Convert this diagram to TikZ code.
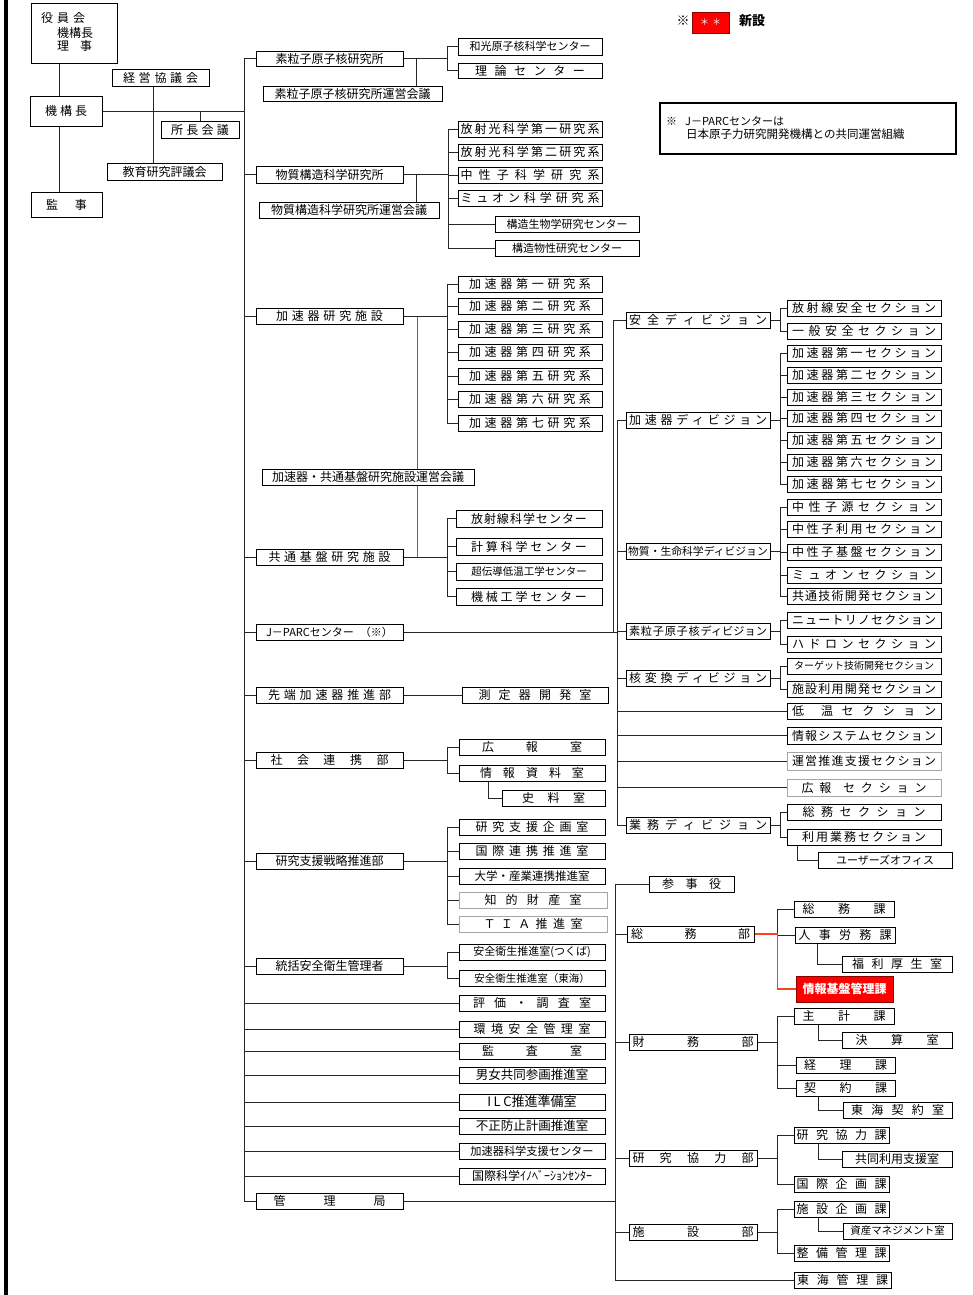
\documentclass[tikz,border=0pt]{standalone}
\usepackage{fontspec}
\setmainfont{Noto Sans CJK JP}
\pgfdeclarelayer{bg}\pgfsetlayers{bg,main}
\newcommand\spr[2]{\makebox[#1pt][s]{\spaceskip=0pt plus 1fil\relax #2}}
\newcommand\fs[1]{\fontsize{#1}{#1}\selectfont}
\tikzset{
  box/.style={draw=black,line width=0.9pt,fill=white,inner sep=0pt,font=\fs{12}},
  gbox/.style={draw=black!35},
  ln/.style={draw=black!85,line width=0.8pt},
  redln/.style={draw={rgb,255:red,255;green,64;blue,32},line width=1.2pt},
  txt/.style={inner sep=0pt,font=\fs{12}}
}
\newcommand\bx[7][]{\node[box,minimum width={(#5-#3)*1pt},minimum height={(#6-#4)*1pt},#1] (#2) at ({(#3+#5)/2},{(#4+#6)/2}) {#7};}
\newcommand\brkt[3]{%
  \coordinate (#1-b) at ([xshift=#2pt]#1.east);
  \draw[ln] (#1.east) -- (#1-b);
  \foreach \ch in {#3} {\draw[ln] (#1-b) |- (\ch.west);}
}
\begin{document}
\begin{tikzpicture}[x=1pt,y=-1pt]
\useasboundingbox (0,0) rectangle (973,1295);
\begin{pgfonlayer}{bg}\fill[white] (0,0) rectangle (973,1295);\end{pgfonlayer}
\fill[black] (3.5,0) rectangle (8,1295);

% ---------- top left ----------
\bx{yakuin}{31}{3}{117}{63}{}
\node[txt,anchor=west] (yk1) at (41,18) {\spr{44}{役 員 会}};
\node[txt,anchor=west] (yk2) at (57,33) {機構長};
\node[txt,anchor=west] (yk3) at (57,46) {\spr{35}{理 事}};
\bx{keiei}{112}{69}{209}{86}{\spr{75}{経 営 協 議 会}}
\bx{kikou}{30}{96}{102}{126}{\spr{42}{機 構 長}}
\bx{shocho}{161}{121}{239}{138}{\spr{58}{所 長 会 議}}
\bx{kyoiku}{107}{163}{222}{180}{教育研究評議会}
\bx{kanji}{31}{192}{102}{217}{\spr{41}{監 事}}

% ---------- main column ----------
\bx{soryu}{256}{51}{403}{66}{素粒子原子核研究所}
\bx{soryuK}{263}{86}{442}{101}{素粒子原子核研究所運営会議}
\bx{wako}{458}{38}{602}{55}{\fs{11}和光原子核科学センター}
\bx{riron}{458}{63}{602}{78}{\spr{110}{理 論 セ ン タ ー}}
\bx{bussei}{256}{166}{403}{183}{物質構造科学研究所}
\bx{busseiK}{259}{202}{439}{218}{物質構造科学研究所運営会議}
\bx{hk1}{458}{121}{602}{137}{\spr{139}{放 射 光 科 学 第 一 研 究 系}}
\bx{hk2}{458}{144}{602}{160}{\spr{139}{放 射 光 科 学 第 二 研 究 系}}
\bx{chu}{458}{167}{602}{183}{\spr{139}{中 性 子 科 学 研 究 系}}
\bx{muon}{458}{190}{602}{206}{\spr{139}{ミ ュ オ ン 科 学 研 究 系}}
\bx{kozoB}{495}{216}{639}{232}{\fs{11}構造生物学研究センター}
\bx{kozoP}{495}{240}{639}{256}{\fs{11}構造物性研究センター}

\bx{kasoku}{256}{308}{403}{324}{\spr{107}{加 速 器 研 究 施 設}}
\bx{kk1}{458}{276}{602}{292}{\spr{122}{加 速 器 第 一 研 究 系}}
\bx{kk2}{458}{298}{602}{314}{\spr{122}{加 速 器 第 二 研 究 系}}
\bx{kk3}{458}{321}{602}{337}{\spr{122}{加 速 器 第 三 研 究 系}}
\bx{kk4}{458}{344}{602}{360}{\spr{122}{加 速 器 第 四 研 究 系}}
\bx{kk5}{458}{368}{602}{384}{\spr{122}{加 速 器 第 五 研 究 系}}
\bx{kk6}{458}{391}{602}{407}{\spr{122}{加 速 器 第 六 研 究 系}}
\bx{kk7}{458}{415}{602}{431}{\spr{122}{加 速 器 第 七 研 究 系}}
\bx{kasokuK}{262}{469}{474}{485}{加速器・共通基盤研究施設運営会議}
\bx{kyotsu}{256}{549}{403}{565}{\spr{122}{共 通 基 盤 研 究 施 設}}
\bx{hsc}{456}{510}{602}{527}{\spr{116}{放 射 線 科 学 セ ン タ ー}}
\bx{keisan}{456}{538}{602}{555}{\spr{116}{計 算 科 学 セ ン タ ー}}
\bx{chodendo}{456}{563}{602}{580}{\fs{10.5}超伝導低温工学センター}
\bx{kikai}{456}{588}{602}{605}{\spr{116}{機 械 工 学 セ ン タ ー}}
\bx{jparc}{256}{624}{403}{640}{\fs{11}J－PARCセンター\hspace{6pt}（※）}
\bx{sentan}{256}{687}{403}{703}{\spr{123}{先 端 加 速 器 推 進 部}}
\bx{sokutei}{462}{687}{608}{703}{\spr{113}{測 定 器 開 発 室}}
\bx{shakai}{256}{752}{403}{768}{\spr{118}{社 会 連 携 部}}
\bx{kouhou}{459}{739}{605}{755}{\spr{100}{広 報 室}}
\bx{jouhou}{459}{765}{605}{781}{\spr{104}{情 報 資 料 室}}
\bx{shiryo}{502}{790}{605}{806}{\spr{63}{史 料 室}}
\bx{kenkyu}{256}{853}{403}{869}{研究支援戦略推進部}
\bx{ks1}{459}{819}{605}{835}{\spr{113}{研 究 支 援 企 画 室}}
\bx{ks2}{459}{843}{605}{859}{\spr{113}{国 際 連 携 推 進 室}}
\bx{ks3}{459}{868}{605}{884}{\fs{11.5}大学・産業連携推進室}
\bx[gbox]{ks4}{459}{892}{607}{908}{\spr{97}{知 的 財 産 室}}
\bx[gbox]{ks5}{459}{916}{607}{932}{\spr{99}{Ｔ Ｉ Ａ 推 進 室}}
\bx{toukatsu}{256}{958}{403}{974}{統括安全衛生管理者}
\bx{anz1}{459}{944}{605}{960}{\fs{11}安全衛生推進室(つくば)}
\bx{anz2}{459}{970}{605}{986}{\fs{10.5}安全衛生推進室（東海）}
\bx{hyouka}{459}{995}{605}{1011}{\spr{118}{評 価 ・ 調 査 室}}
\bx{kankyo}{459}{1021}{605}{1037}{\spr{117}{環 境 安 全 管 理 室}}
\bx{kansa}{459}{1043}{605}{1059}{\spr{100}{監 査 室}}
\bx{danjo}{459}{1067}{605}{1083}{\fs{12.5}男女共同参画推進室}
\bx{ilc}{459}{1094}{605}{1110}{\fs{13}I\hspace{2.5pt}L\hspace{2.5pt}C推進準備室}
\bx{fusei}{459}{1118}{605}{1134}{\fs{12.5}不正防止計画推進室}
\bx{kasokuS}{459}{1143}{605}{1159}{\fs{11.2}加速器科学支援センター}
\bx{kokusai}{459}{1168}{605}{1184}{国際科学ｲﾉﾍﾞｰｼｮﾝｾﾝﾀｰ}
\bx{kanri}{256}{1193}{403}{1209}{\spr{112}{管 理 局}}

% ---------- J-PARC divisions ----------
\bx{dAnzen}{626}{312}{770}{328}{\spr{138}{安 全 デ ィ ビ ジ ョ ン}}
\bx{dKasoku}{626}{412}{770}{428}{\spr{138}{加 速 器 デ ィ ビ ジ ョ ン}}
\bx{dBusshitsu}{626}{543}{770}{559}{\fs{10.8}物質・生命科学ディビジョン}
\bx{dSoryu}{626}{623}{770}{639}{\fs{11.2}\spr{138}{素 粒 子 原 子 核 ディビジョン}}
\bx{dKaku}{626}{670}{770}{686}{\spr{138}{核 変 換 デ ィ ビ ジ ョ ン}}
\bx{dGyomu}{626}{817}{770}{833}{\spr{138}{業 務 デ ィ ビ ジ ョ ン}}

\bx{sHou}{787}{300}{941}{316}{\spr{144}{放 射 線 安 全 セ ク シ ョ ン}}
\bx{sIppan}{787}{323}{941}{339}{\spr{144}{一 般 安 全 セ ク シ ョ ン}}
\bx{sK1}{787}{345}{941}{361}{\spr{144}{加 速 器 第 一 セ ク シ ョ ン}}
\bx{sK2}{787}{367}{941}{383}{\spr{144}{加 速 器 第 二 セ ク シ ョ ン}}
\bx{sK3}{787}{389}{941}{405}{\spr{144}{加 速 器 第 三 セ ク シ ョ ン}}
\bx{sK4}{787}{410}{941}{426}{\spr{144}{加 速 器 第 四 セ ク シ ョ ン}}
\bx{sK5}{787}{432}{941}{448}{\spr{144}{加 速 器 第 五 セ ク シ ョ ン}}
\bx{sK6}{787}{454}{941}{470}{\spr{144}{加 速 器 第 六 セ ク シ ョ ン}}
\bx{sK7}{787}{476}{941}{492}{\spr{144}{加 速 器 第 七 セ ク シ ョ ン}}
\bx{sCs1}{787}{499}{941}{515}{\spr{144}{中 性 子 源 セ ク シ ョ ン}}
\bx{sCs2}{787}{521}{941}{537}{\spr{144}{中 性 子 利 用 セ ク シ ョ ン}}
\bx{sCs3}{787}{544}{941}{560}{\spr{144}{中 性 子 基 盤 セ ク シ ョ ン}}
\bx{sMuon}{787}{567}{941}{583}{\spr{144}{ミ ュ オ ン セ ク シ ョ ン}}
\bx{sKyotsu}{787}{588}{941}{604}{\spr{144}{共 通 技 術 開 発 セ ク シ ョ ン}}
\bx{sNeu}{787}{612}{941}{628}{\spr{144}{ニ ュ ー ト リ ノ セ ク シ ョ ン}}
\bx{sHad}{787}{636}{941}{652}{\spr{144}{ハ ド ロ ン セ ク シ ョ ン}}
\bx{sTarget}{787}{658}{941}{674}{\fs{10}ターゲット技術開発セクション}
\bx{sShisetsu}{787}{681}{941}{697}{\spr{144}{施 設 利 用 開 発 セ ク シ ョ ン}}
\bx{sTeion}{787}{703}{941}{719}{\spr{144}{低 \ 温 セ ク シ ョ ン}}
\bx{sJoho}{787}{727}{941}{744}{\spr{144}{情 報 シ ス テ ム セ ク シ ョ ン}}
\bx[gbox]{sUnei}{787}{752}{941}{770}{\spr{144}{運 営 推 進 支 援 セ ク シ ョ ン}}
\bx[gbox]{sKouho}{787}{779}{941}{796}{\spr{125}{広 報 \ セ ク シ ョ ン}}
\bx{sSoumu}{787}{804}{941}{820}{\spr{123}{総 務 セ ク シ ョ ン}}
\bx{sRiyou}{787}{829}{941}{845}{\spr{124}{利 用 業 務 セ ク シ ョ ン}}
\bx{sUsers}{818}{852}{952}{868}{\fs{11}ユーザーズオフィス}

% ---------- management ----------
\bx{sanji}{649}{876}{734}{892}{\spr{59}{参 事 役}}
\bx{soumuB}{627}{926}{754}{942}{\spr{119}{総 務 部}}
\bx{zaimu}{629}{1034}{757}{1050}{\spr{121}{財 務 部}}
\bx{kenkyoB}{629}{1150}{757}{1166}{\spr{121}{研 究 協 力 部}}
\bx{shisetsuB}{629}{1224}{757}{1240}{\spr{121}{施 設 部}}
\bx{toukaiK}{794}{1272}{891}{1288}{\spr{91}{東 海 管 理 課}}
\bx{soumuK}{794}{901}{894}{917}{\spr{83}{総 務 課}}
\bx{jinji}{795}{927}{895}{943}{\spr{93}{人 事 労 務 課}}
\bx{fukuri}{842}{956}{952}{972}{\spr{90}{福 利 厚 生 室}}
\bx[fill=red,draw=red!55!black,text=white,line width=1pt,font=\fs{12}\bfseries]{jouhoK}{796}{976}{893}{1002}{情報基盤管理課}
\bx{shukei}{794}{1008}{894}{1024}{\spr{83}{主 計 課}}
\bx{kessan}{842}{1032}{952}{1048}{\spr{83}{決 算 室}}
\bx{keiri}{796}{1057}{895}{1073}{\spr{83}{経 理 課}}
\bx{keiyaku}{796}{1080}{895}{1096}{\spr{83}{契 約 課}}
\bx{toukaiKy}{843}{1102}{952}{1118}{\spr{93}{東 海 契 約 室}}
\bx{kenkyoK}{794}{1127}{889}{1143}{\spr{90}{研 究 協 力 課}}
\bx{kyoudou}{842}{1151}{952}{1167}{共同利用支援室}
\bx{kokusaiK}{794}{1176}{889}{1192}{\spr{90}{国 際 企 画 課}}
\bx{shisetsuK}{794}{1201}{889}{1217}{\spr{90}{施 設 企 画 課}}
\bx{shisan}{843}{1223}{952}{1239}{\fs{10.5}資産マネジメント室}
\bx{seibi}{794}{1245}{889}{1261}{\spr{90}{整 備 管 理 課}}

% ---------- legend / note ----------
\node[txt,font=\fs{13}\bfseries] (kome) at (683,21) {※};
\bx[fill=red,draw=red!55!black,text=white,line width=0.6pt]{legbox}{692}{12}{729}{33}{\fs{9}＊\hspace{3pt}＊}
\node[txt,font=\fs{13}\bfseries] (shinsetsu) at (752,21) {新設};
\bx[line width=1.4pt]{note}{660}{103}{956}{154}{}
\node[txt,anchor=west,font=\fs{11}] (n1) at (666,121) {※\hspace{8pt}J－PARCセンターは};
\node[txt,anchor=west,font=\fs{11.5}] (n2) at (686,134) {日本原子力研究開発機構との共同運営組織};

% ---------- connectors ----------
\begin{pgfonlayer}{bg}
\coordinate (kk) at ([xshift=-7pt]kikou.north);
\draw[ln] (kk) -- (kk |- yakuin.south);
\coordinate (kb) at ([xshift=-7pt]kikou.south);
\draw[ln] (kb) -- (kb |- kanji.north);
\coordinate (kv) at ([xshift=-7.5pt]keiei.south);
\draw[ln] (kv) -- (kv |- kyoiku.north);
\coordinate (T) at ([xshift=142pt]kikou.east);
\draw[ln] (kikou.east) -- (T);
\draw[ln] (shocho.north) -- (shocho.north |- T);
\draw[ln] (T |- soryu.west) -- (T |- kanri.west);
\foreach \n in {soryu,bussei,kasoku,kyotsu,jparc,sentan,shakai,kenkyu,toukatsu,hyouka,kankyo,kansa,danjo,ilc,fusei,kasokuS,kokusai,kanri}
  {\draw[ln] (T |- \n.west) -- (\n.west);}

\coordinate (sv) at ([xshift=13pt]soryu.east);
\draw[ln] (sv) -- (sv |- soryuK.north);
\coordinate (bv) at ([xshift=13pt]bussei.east);
\draw[ln] (bv) -- (bv |- busseiK.north);
\coordinate (kv2) at ([xshift=14pt]kasoku.east);
\draw[ln,draw=black!60] (kv2) -- (kv2 |- kyotsu.east);

\brkt{soryu}{44}{wako,riron}
\brkt{bussei}{45}{hk1,hk2,chu,muon,kozoB,kozoP}
\brkt{kasoku}{44}{kk1,kk2,kk3,kk4,kk5,kk6,kk7}
\brkt{kyotsu}{44}{hsc,keisan,chodendo,kikai}
\brkt{shakai}{44}{kouhou,jouhou}
\brkt{kenkyu}{44}{ks1,ks2,ks3,ks4,ks5}
\brkt{toukatsu}{44}{anz1,anz2}
\draw[ln] (sentan.east) -- (sokutei.west);
\coordinate (jh) at ([xshift=-44pt]jouhou.south);
\draw[ln] (jh) |- (shiryo.west);

% J-PARC
\coordinate (J1) at ([xshift=210pt]jparc.east);
\coordinate (J2) at ([xshift=214pt]jparc.east);
\draw[ln] (jparc.east) -- (J2);
\draw[ln] (J1) |- (dAnzen.west);
\draw[ln] (J2 |- dKasoku.west) -- (J2 |- dGyomu.west);
\foreach \n in {dKasoku,dBusshitsu,dSoryu,dKaku,sTeion,sJoho,sUnei,sKouho,dGyomu}
  {\draw[ln] (J2 |- \n.west) -- (\n.west);}
\brkt{dAnzen}{10}{sHou,sIppan}
\brkt{dKasoku}{10}{sK1,sK2,sK3,sK4,sK5,sK6,sK7}
\brkt{dBusshitsu}{10}{sCs1,sCs2,sCs3,sMuon,sKyotsu}
\brkt{dSoryu}{10}{sNeu,sHad}
\brkt{dKaku}{10}{sTarget,sShisetsu}
\brkt{dGyomu}{10}{sSoumu,sRiyou}
\coordinate (ru) at ([xshift=-67pt]sRiyou.south);
\draw[ln] (ru) |- (sUsers.west);

% management
\coordinate (M) at ([xshift=212pt]kanri.east);
\draw[ln] (kanri.east) -- (M);
\draw[ln] (M |- sanji.west) -- (M |- toukaiK.west);
\foreach \n in {sanji,soumuB,zaimu,kenkyoB,shisetsuB,toukaiK}
  {\draw[ln] (M |- \n.west) -- (\n.west);}
\coordinate (sb) at ([xshift=23pt]soumuB.east);
\draw[ln] (sb) |- (soumuK.west);
\draw[ln] (sb) |- (jinji.west);
\coordinate (jf) at ([xshift=-28pt]jinji.south);
\draw[ln] (jf) |- (fukuri.west);
\draw[redln] (soumuB.east) -- (sb) |- (jouhoK.west);
\brkt{zaimu}{20}{shukei,keiri,keiyaku}
\coordinate (sk) at ([xshift=-26pt]shukei.south);
\draw[ln] (sk) |- (kessan.west);
\coordinate (ky) at ([xshift=-27.5pt]keiyaku.south);
\draw[ln] (ky) |- (toukaiKy.west);
\brkt{kenkyoB}{20}{kenkyoK,kokusaiK}
\coordinate (kc) at ([xshift=-23.5pt]kenkyoK.south);
\draw[ln] (kc) |- (kyoudou.west);
\brkt{shisetsuB}{20}{shisetsuK,seibi}
\coordinate (sc) at ([xshift=-23.5pt]shisetsuK.south);
\draw[ln] (sc) |- (shisan.west);
\end{pgfonlayer}
\end{tikzpicture}
\end{document}
